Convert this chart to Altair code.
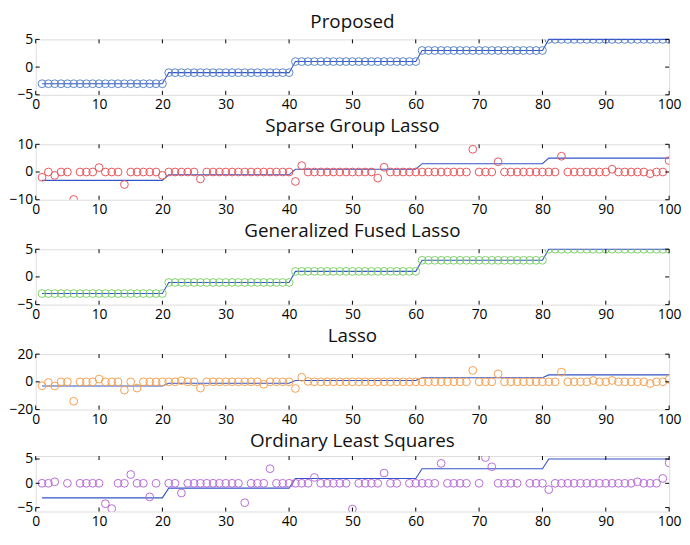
import altair as alt
import pandas as pd

# ---- data ----
idx = list(range(1, 101))
truth = [-3] * 20 + [-1] * 20 + [1] * 20 + [3] * 20 + [5] * 20
proposed = [-3] * 20 + [-1] * 20 + [1] * 20 + [3] * 20 + [5] * 20
gfl = [-3] * 20 + [-1] * 20 + [1] * 20 + [3] * 20 + [5] * 20

sgl = [-1.9, 0, -1.2, 0, 0, -9.9, 0, 0, 0, 1.6,
       0, 0, 0, -4.5, 0, 0, 0, 0, 0, -1.2,
       0, 0, 0, 0, 0, -2.5, 0, 0, 0, 0,
       0, 0, 0, 0, 0, 0, 0, 0, 0, 0,
       -3.4, 2.3, 0, 0, 0, 0, 0, 0, 0, 0,
       0, 0, 0, -2.2, 1.7, 0, 0, 0, 0, 0,
       0, 0, 0, 0, 0, 0, 0, 0, 8.2, 0,
       0, 0, 3.7, 0, 0, 0, 0, 0, 0, 0,
       0, 0, 5.7, 0, 0, 0, 0, 0, 0, 0,
       1.0, 0, 0, 0, 0, 0, -0.6, 0, 0, 4.1]

lasso = [-2.8, -0.5, -3.0, 0, 0, -14.0, 0, 0, 0, 2.0,
         0, 0, 0, -6.0, 0, -4.5, 0, 0, 0, 0,
         0, 0, 0.8, 0, 0, -4.5, 0, 0, 0, 0,
         0, 0, 0, 0, 0, -1.8, 0, 0, 0, 0,
         -4.8, 3.3, 0.3, 0, 0, 0, 0, 0, 0, 0,
         0, 0, 0, 0, 0, 0, 0, 0, 0, 0,
         0, 0, 0, 0, 0, 0, 0, 0, 8.3, 0,
         0, 0, 5.8, 0, 0, 0, 0, 0, 0, 0,
         0, 0, 7.0, 0, 0, 0, 0, 1.0, 0, 0,
         1.0, 0, 0, 0, 0, 0, -1.2, 0, 0, 1.8]

ols = [0, 0, 0.3, None, 0, None, 0, 0, 0, 0,
       -4.2, -5.2, 0, 0, 1.8, 0, 0, -2.8, 0, None,
       0, 0, -2.0, 0, 0, 0, 0, 0, 0, 0,
       0, 0, -4.0, 0, 0, 0, 3.0, 0, 0, 0,
       0, 0, 0, 1.2, 0, 0, 0, 0, 0, -5.3,
       0, 0, 0, 0, 2.1, 0, 0, None, 0, 0,
       0, 0, 0, 4.1, 0, 0, 0, 0, None, 0,
       5.3, 3.4, 0, 0, 0, 0, None, 0, 0, 0,
       -1.3, 0, 0, 0, 0, 0, 0, 0, 0, 0,
       0, 0, 0, 0, 0.3, 0, 0, 0, 1.0, 4.2]

titles = ["Proposed", "Sparse Group Lasso", "Generalized Fused Lasso",
          "Lasso", "Ordinary Least Squares"]
estimates = [proposed, sgl, gfl, lasso, ols]
colors = ["#5b86c8", "#e8555a", "#7fd06a", "#f5a050", "#b86ad8"]
y_domains = [[-5, 5], [-10, 10], [-5, 5], [-20, 20], [-5.8, 5.6]]
y_ticks = [[-5, 0, 5], [-10, 0, 10], [-5, 0, 5], [-20, 0, 20], [-5, 0, 5]]
x_ticks = [0, 10, 20, 30, 40, 50, 60, 70, 80, 90, 100]

LINE_COLOR = "#3556c8"
W, H = 640, 56
FONT = "Open Sans"
TL = 4  # inward tick length

panels = []
for title, est, col, ydom, yt in zip(titles, estimates, colors, y_domains, y_ticks):
    df = pd.DataFrame({"x": idx, "truth": truth, "est": est})
    xs = alt.Scale(domain=[0, 100], nice=False, zero=False)
    ys = alt.Scale(domain=ydom, nice=False, zero=False)
    xax = alt.Axis(values=x_ticks, title=None, grid=False, domain=False, tickSize=0,
                   labelPadding=3, labelFont=FONT, labelFontSize=14, labelColor="#000",
                   labelFlush=False, labelOverlap=False)
    yax = alt.Axis(values=yt, title=None, grid=False, domain=False, tickSize=0,
                   labelPadding=3, labelFont=FONT, labelFontSize=14, labelColor="#000",
                   labelFlush=False, labelOverlap=False)

    base = alt.Chart(df)
    line = base.mark_line(color=LINE_COLOR, strokeWidth=1.1).encode(
        x=alt.X("x:Q", scale=xs, axis=xax),
        y=alt.Y("truth:Q", scale=ys, axis=yax),
    )
    pts = base.mark_point(shape="circle", filled=False, size=62, strokeWidth=1,
                          color=col, clip=True, opacity=1).encode(
        x=alt.X("x:Q", scale=xs, axis=xax),
        y=alt.Y("est:Q", scale=ys, axis=yax),
    )
    xt = pd.DataFrame({"t": x_ticks})
    yt_df = pd.DataFrame({"t": yt})
    xt_top = alt.Chart(xt).mark_rule(color="#000", strokeWidth=1).encode(
        x=alt.X("t:Q", scale=xs, axis=xax), y=alt.value(0), y2=alt.value(TL))
    xt_bot = alt.Chart(xt).mark_rule(color="#000", strokeWidth=1).encode(
        x=alt.X("t:Q", scale=xs, axis=xax), y=alt.value(H), y2=alt.value(H - TL))
    yt_l = alt.Chart(yt_df).mark_rule(color="#000", strokeWidth=1).encode(
        y=alt.Y("t:Q", scale=ys, axis=yax), x=alt.value(0), x2=alt.value(TL))
    yt_r = alt.Chart(yt_df).mark_rule(color="#000", strokeWidth=1).encode(
        y=alt.Y("t:Q", scale=ys, axis=yax), x=alt.value(W), x2=alt.value(W - TL))

    panel = alt.layer(line, pts, xt_top, xt_bot, yt_l, yt_r).properties(
        width=W, height=H,
        title=alt.TitleParams(title, font=FONT, fontSize=19, fontWeight="normal",
                              color="#111", offset=1, anchor="middle"),
    )
    panels.append(panel)

chart = alt.vconcat(*panels, spacing=4).properties(
    padding={"left": 0, "top": 1, "right": 0, "bottom": 0}
).configure_view(
    stroke="#000", strokeWidth=1.2
).configure(background="white")

chart.save("out.html", embed_options={"renderer": "svg", "actions": False})
